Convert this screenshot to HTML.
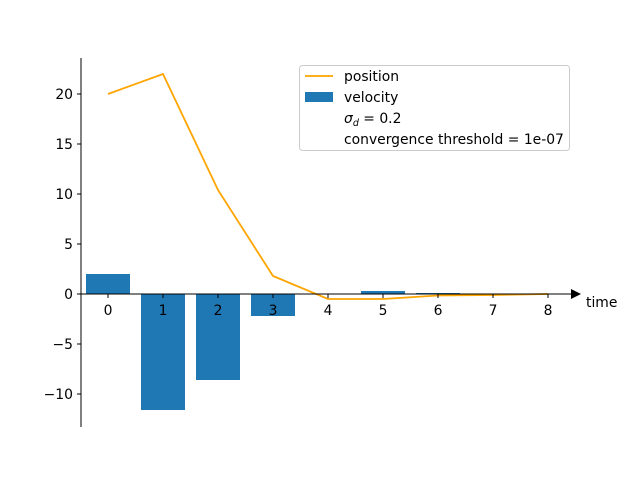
<!DOCTYPE html>
<html><head><meta charset="utf-8"><style>
body{margin:0;background:#fff;width:640px;height:480px;overflow:hidden}
text{font-family:"DejaVu Sans","Liberation Sans",sans-serif;font-size:13.9px;fill:#000}
</style></head><body>
<svg id="chart" width="640" height="480" xmlns="http://www.w3.org/2000/svg"></svg>
<script>
const categories=[0,1,2,3,4,5,6,7,8];
const velocity=[2,-11.6,-8.6,-2.2,0,0.3,0.1,-0.05,0];
const position=[20,22,10.4,1.8,-0.5,-0.5,-0.15,-0.1,0];
const yTicks=[-10,-5,0,5,10,15,20];
const svg=document.getElementById('chart');
const NS='http://www.w3.org/2000/svg';
const X=v=>108+v*55;
const Y=v=>294-v*10;
function mk(t,a,p){const e=document.createElementNS(NS,t);for(const k in a)e.setAttribute(k,a[k]);(p||svg).appendChild(e);return e;}
categories.forEach((c,i)=>{const v=velocity[i];
const r=mk('rect',{x:X(c)-22,y:Math.min(Y(v),Y(0)),width:44,height:Math.abs(Y(v)-Y(0)),fill:'#1f77b4'});

});
const line=mk('polyline',{points:categories.map((c,i)=>X(c)+','+Y(position[i])).join(' '),fill:'none',stroke:'#ffa500','stroke-width':1.8});


const ya=mk('line',{x1:81,y1:58,x2:81,y2:427,stroke:'#000','stroke-width':1});


const xa=mk('line',{x1:81,y1:294,x2:572,y2:294,stroke:'#000','stroke-width':1});


const ar=mk('polygon',{points:'571,289 581,294 571,299',fill:'#000'});


yTicks.forEach(t=>{mk('line',{x1:77,y1:Y(t),x2:81,y2:Y(t),stroke:'#000'});
const tx=mk('text',{x:73,y:Y(t)+5,'text-anchor':'end'});tx.textContent=t<0?'\u2212'+(-t):t;

});
categories.forEach(c=>{mk('line',{x1:X(c),y1:294,x2:X(c),y2:298,stroke:'#000'});
const tx=mk('text',{x:X(c),y:315,'text-anchor':'middle'});tx.textContent=c;

});
const tt=mk('text',{x:586,y:307});tt.textContent='time';


const lg=mk('g',{});


mk('rect',{x:299.5,y:65.5,width:270,height:85,rx:3,fill:'#fff',stroke:'#ccc'},lg);
mk('line',{x1:305,y1:76,x2:333,y2:76,stroke:'#ffa500','stroke-width':1.8},lg);
mk('rect',{x:305,y:92,width:28,height:10,fill:'#1f77b4'},lg);
const l1=mk('text',{x:344,y:81},lg);l1.textContent='position';
const l2=mk('text',{x:344,y:102},lg);l2.textContent='velocity';
const l3=mk('text',{x:344,y:123},lg);l3.innerHTML='<tspan font-style="italic">σ</tspan><tspan font-style="italic" font-size="9.5" dy="3">d</tspan><tspan dy="-3"> = 0.2</tspan>';
const l4=mk('text',{x:344,y:144},lg);l4.textContent='convergence threshold = 1e-07';
</script>
</body></html>
